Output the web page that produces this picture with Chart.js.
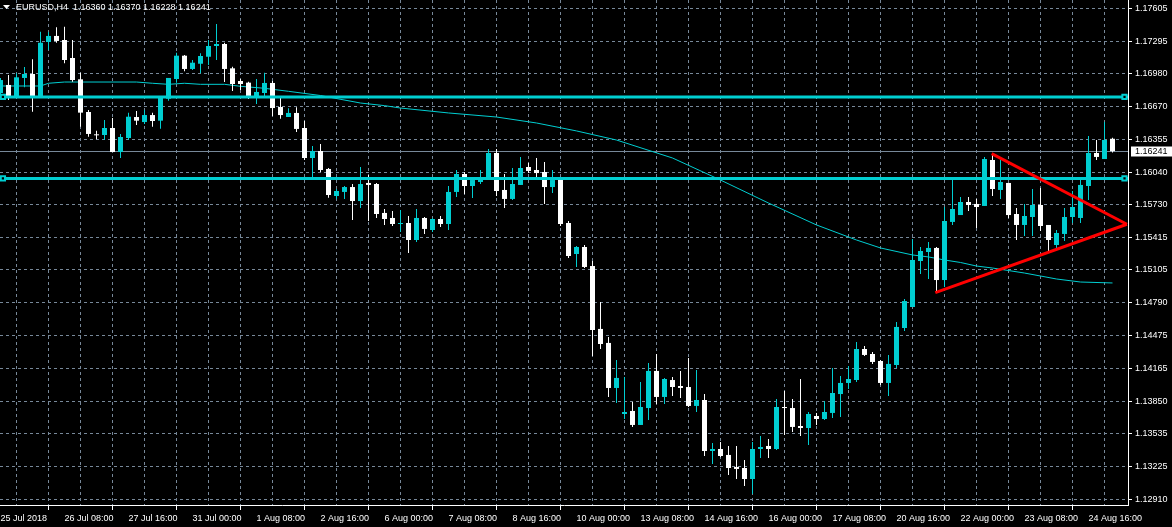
<!DOCTYPE html>
<html>
<head>
<meta charset="utf-8">
<title>EURUSD,H4</title>
<script src="https://cdn.jsdelivr.net/npm/chart.js@4.4.1/dist/chart.umd.min.js"></script>
<style>
  html, body { margin: 0; padding: 0; background: #000; }
  canvas { display: block; }
</style>
</head>
<body>
<canvas id="chart" width="1172" height="527"></canvas>
<script>
// H4 candles, oldest first (25 Jul 2018 00:00 .. last bar)
const opens = [
  1.16798, 1.16875, 1.16763, 1.16942, 1.16980, 1.16763, 1.17286, 1.17344, 1.17305, 1.17133,
  1.16929, 1.16616, 1.16396, 1.16396, 1.16463, 1.16233, 1.16367, 1.16568, 1.16520, 1.16587,
  1.16533, 1.16743, 1.16932, 1.17155, 1.17028, 1.17078, 1.17145, 1.17248, 1.17267, 1.17034,
  1.16913, 1.16897, 1.16760, 1.16798, 1.16894, 1.16664, 1.16568, 1.16607, 1.16463, 1.16176,
  1.16243, 1.16071, 1.15812, 1.15851, 1.15898, 1.15764, 1.15937, 1.15927, 1.15650, 1.15602,
  1.15544, 1.15554, 1.15391, 1.15602, 1.15487, 1.15592, 1.15544, 1.15851, 1.16023, 1.15908,
  1.15946, 1.15975, 1.16224, 1.15870, 1.15784, 1.15918, 1.16090, 1.16061, 1.16042, 1.15898,
  1.15975, 1.15554, 1.15257, 1.15324, 1.15142, 1.14540, 1.14406, 1.13975, 1.13726, 1.13755,
  1.13621, 1.13783, 1.14138, 1.13889, 1.14051, 1.13994, 1.13984, 1.13803, 1.13860, 1.13372,
  1.13391, 1.13334, 1.13219, 1.13209, 1.13104, 1.13391, 1.13420, 1.13391, 1.13793, 1.13783,
  1.13611, 1.13592, 1.13707, 1.13678, 1.13736, 1.13917, 1.14023, 1.14051, 1.14348, 1.14300,
  1.14233, 1.14023, 1.14195, 1.14549, 1.14750, 1.15190, 1.15276, 1.15315, 1.15008, 1.15564,
  1.15630, 1.15755, 1.15736, 1.15717, 1.16157, 1.15870, 1.15937, 1.15640, 1.15535, 1.15611,
  1.15726, 1.15535, 1.15343, 1.15449, 1.15611, 1.15602, 1.15908, 1.16224, 1.16166, 1.16360
];
const highs = [
  1.16942, 1.16970, 1.16987, 1.17047, 1.17121, 1.17385, 1.17382, 1.17427, 1.17433, 1.17305,
  1.16992, 1.16635, 1.16437, 1.16540, 1.16559, 1.16406, 1.16610, 1.16626, 1.16635, 1.16610,
  1.16763, 1.16942, 1.17184, 1.17162, 1.17114, 1.17178, 1.17305, 1.17458, 1.17279, 1.17050,
  1.16932, 1.16906, 1.16932, 1.16992, 1.16913, 1.16769, 1.16652, 1.16661, 1.16530, 1.16291,
  1.16310, 1.16080, 1.15879, 1.15908, 1.15927, 1.16090, 1.16013, 1.15937, 1.15688, 1.15669,
  1.15678, 1.15621, 1.15688, 1.15611, 1.15602, 1.15621, 1.15908, 1.16061, 1.16042, 1.15975,
  1.16061, 1.16262, 1.16262, 1.16023, 1.16080, 1.16186, 1.16128, 1.16176, 1.16138, 1.16061,
  1.15975, 1.15573, 1.15334, 1.15343, 1.15190, 1.14798, 1.14463, 1.14243, 1.14080, 1.13841,
  1.14032, 1.14214, 1.14300, 1.14071, 1.14080, 1.14138, 1.14262, 1.14147, 1.13917, 1.13449,
  1.13458, 1.13420, 1.13420, 1.13286, 1.13458, 1.13516, 1.13487, 1.13870, 1.13946, 1.13870,
  1.14061, 1.13745, 1.13736, 1.13850, 1.14166, 1.14090, 1.14185, 1.14415, 1.14377, 1.14319,
  1.14243, 1.14291, 1.14606, 1.14827, 1.15401, 1.15324, 1.15372, 1.15324, 1.15707, 1.15994,
  1.15803, 1.15803, 1.15784, 1.16186, 1.16214, 1.16157, 1.15937, 1.15697, 1.15736, 1.15879,
  1.15889, 1.15535, 1.15487, 1.15697, 1.15860, 1.15975, 1.16387, 1.16348, 1.16520, 1.16370
];
const lows = [
  1.16779, 1.16731, 1.16760, 1.16853, 1.16619, 1.16760, 1.17210, 1.17279, 1.17082, 1.16906,
  1.16476, 1.16380, 1.16355, 1.16348, 1.16233, 1.16176, 1.16348, 1.16492, 1.16501, 1.16476,
  1.16456, 1.16724, 1.16897, 1.17006, 1.17018, 1.16987, 1.17066, 1.17114, 1.16903, 1.16817,
  1.16827, 1.16741, 1.16693, 1.16760, 1.16578, 1.16552, 1.16568, 1.16425, 1.16157, 1.15985,
  1.16042, 1.15796, 1.15784, 1.15784, 1.15583, 1.15697, 1.15573, 1.15602, 1.15535, 1.15525,
  1.15468, 1.15267, 1.15372, 1.15449, 1.15468, 1.15516, 1.15487, 1.15803, 1.15831, 1.15793,
  1.15927, 1.15965, 1.15812, 1.15697, 1.15774, 1.15918, 1.16032, 1.15985, 1.15736, 1.15841,
  1.15525, 1.15219, 1.15133, 1.15123, 1.14281, 1.14348, 1.13889, 1.13831, 1.13678, 1.13602,
  1.13621, 1.13669, 1.13822, 1.13822, 1.13898, 1.13879, 1.13793, 1.13745, 1.13324, 1.13248,
  1.13315, 1.13142, 1.13104, 1.13037, 1.12960, 1.13305, 1.13305, 1.13382, 1.13525, 1.13554,
  1.13516, 1.13429, 1.13621, 1.13669, 1.13688, 1.13697, 1.13965, 1.14032, 1.14281, 1.14205,
  1.14004, 1.13898, 1.14166, 1.14520, 1.14750, 1.15066, 1.15018, 1.14894, 1.14941, 1.15535,
  1.15630, 1.15669, 1.15506, 1.15717, 1.15812, 1.15784, 1.15602, 1.15391, 1.15430, 1.15430,
  1.15477, 1.15286, 1.15315, 1.15382, 1.15554, 1.15554, 1.15774, 1.16157, 1.16166, 1.16228
];
const closes = [
  1.16922, 1.16763, 1.16948, 1.16980, 1.16763, 1.17279, 1.17344, 1.17296, 1.17114, 1.16922,
  1.16610, 1.16406, 1.16393, 1.16463, 1.16233, 1.16377, 1.16571, 1.16533, 1.16587, 1.16530,
  1.16760, 1.16942, 1.17155, 1.17028, 1.17088, 1.17152, 1.17248, 1.17267, 1.17028, 1.16884,
  1.16884, 1.16760, 1.16808, 1.16894, 1.16654, 1.16587, 1.16607, 1.16454, 1.16176, 1.16243,
  1.16061, 1.15822, 1.15860, 1.15898, 1.15764, 1.15927, 1.15918, 1.15640, 1.15592, 1.15544,
  1.15554, 1.15391, 1.15602, 1.15497, 1.15592, 1.15544, 1.15851, 1.16023, 1.15908, 1.15965,
  1.15994, 1.16224, 1.15860, 1.15784, 1.15927, 1.16080, 1.16052, 1.16032, 1.15898, 1.15965,
  1.15544, 1.15238, 1.15324, 1.15133, 1.14530, 1.14396, 1.13975, 1.14071, 1.13745, 1.13621,
  1.13793, 1.14138, 1.13889, 1.14061, 1.13984, 1.13975, 1.13803, 1.13860, 1.13372, 1.13391,
  1.13324, 1.13209, 1.13200, 1.13104, 1.13391, 1.13410, 1.13391, 1.13793, 1.13783, 1.13602,
  1.13592, 1.13726, 1.13678, 1.13745, 1.13927, 1.14023, 1.14061, 1.14348, 1.14291, 1.14224,
  1.14023, 1.14205, 1.14559, 1.14807, 1.15200, 1.15286, 1.15315, 1.15008, 1.15573, 1.15688,
  1.15755, 1.15726, 1.15707, 1.16166, 1.15879, 1.15946, 1.15630, 1.15535, 1.15621, 1.15726,
  1.15525, 1.15391, 1.15458, 1.15611, 1.15707, 1.15918, 1.16224, 1.16186, 1.16348, 1.16241
];

// one time label every 8 bars
const timeLabels = [
  '25 Jul 2018', '26 Jul 08:00', '27 Jul 16:00', '31 Jul 00:00', '1 Aug 08:00', '2 Aug 16:00',
  '6 Aug 00:00', '7 Aug 08:00', '8 Aug 16:00', '10 Aug 00:00', '13 Aug 08:00', '14 Aug 16:00',
  '16 Aug 00:00', '17 Aug 08:00', '20 Aug 16:00', '22 Aug 00:00', '23 Aug 08:00', '24 Aug 16:00'
];
const priceTicks = [
  1.17605, 1.17295, 1.16980, 1.16670, 1.16355, 1.16040, 1.15730, 1.15415,
  1.15105, 1.14790, 1.14475, 1.14165, 1.13850, 1.13535, 1.13225, 1.12910
];

const maBars = [0, 5, 6, 8, 17, 19, 21, 23, 25, 28, 30, 33, 36, 40, 42, 45, 48, 50, 56, 62,
  67, 72, 77, 84, 90, 96, 102, 107, 110, 114, 116, 118, 120, 122, 124, 128, 132, 135, 139];
const maValues = [1.16865, 1.16865, 1.16891, 1.16903, 1.16903, 1.16891, 1.16881, 1.16891, 1.16881, 1.16881,
  1.16862, 1.16843, 1.16814, 1.16774, 1.16745, 1.16702, 1.16677, 1.16654, 1.16607, 1.16568,
  1.16511, 1.16435, 1.16348, 1.16176, 1.15965, 1.15745, 1.15535, 1.15391, 1.15315, 1.15248,
  1.15229, 1.15200, 1.15176, 1.15142, 1.15123, 1.15075, 1.15018, 1.14989, 1.14980];

// horizontal levels and the triangle (bar, price)
const levels = [1.16760, 1.15980];
const triUpper = [[123.9, 1.16217], [140.8, 1.15542]];
const triLower = [[116.85, 1.14887], [140.8, 1.15542]];
const symbol = 'EURUSD,H4';

const CYAN = '#00ced1';
const GRID = '#778899';
const FONT = { family: 'Liberation Sans', size: 9 };
const X_MIN = -0.0625, X_MAX = 140.9375;

const bars = opens.map((_, i) => i);
const last = opens.length - 1;
const candleColor = c => closes[c.dataIndex] > opens[c.dataIndex] ? CYAN : '#ffffff';

const levelSets = levels.map(v => ({
  type: 'line',
  data: [{ x: X_MIN, y: v }, { x: 0.3, y: v }, { x: 140.5, y: v }, { x: X_MAX, y: v }],
  borderColor: CYAN,
  borderWidth: 3,
  pointStyle: 'rect',
  pointRadius: c => (c.dataIndex === 1 || c.dataIndex === 2) ? 3 : 0,
  pointBackgroundColor: '#000',
  pointBorderColor: CYAN,
  pointBorderWidth: 2,
  order: 1
}));

const overlay = {
  id: 'overlay',
  beforeDatasetsDraw(chart) {
    const { ctx, chartArea, scales } = chart;
    const y = Math.round(scales.y.getPixelForValue(closes[last])) + 0.5;
    ctx.save();
    ctx.strokeStyle = GRID;
    ctx.lineWidth = 1;
    ctx.beginPath();
    ctx.moveTo(chartArea.left, y);
    ctx.lineTo(chartArea.right, y);
    ctx.stroke();
    ctx.restore();
  },
  afterDraw(chart) {
    const { ctx, chartArea, scales } = chart;
    ctx.save();
    // symbol header
    ctx.fillStyle = '#fff';
    ctx.beginPath();
    ctx.moveTo(3, 5); ctx.lineTo(10, 5); ctx.lineTo(6.5, 9); ctx.closePath();
    ctx.fill();
    ctx.font = '9px "Liberation Sans"';
    ctx.textBaseline = 'middle';
    const head = symbol + '  ' + [opens[last], highs[last], lows[last], closes[last]].map(v => v.toFixed(5)).join(' ');
    ctx.fillText(head, 16, 7.5);
    // last price box
    const y = scales.y.getPixelForValue(closes[last]);
    ctx.fillStyle = '#fff';
    ctx.fillRect(chartArea.right + 3, Math.round(y) - 4.5, 41, 10);
    ctx.fillStyle = '#000';
    ctx.fillText(closes[last].toFixed(5), chartArea.right + 7, Math.round(y) + 0.5);
    ctx.restore();
  }
};

new Chart(document.getElementById('chart'), {
  type: 'bar',
  data: {
    datasets: [
      {
        type: 'line',
        data: triUpper.map(p => ({ x: p[0], y: p[1] })),
        borderColor: '#ff0000', borderWidth: 3, pointRadius: 0, order: 0
      },
      {
        type: 'line',
        data: triLower.map(p => ({ x: p[0], y: p[1] })),
        borderColor: '#ff0000', borderWidth: 3, pointRadius: 0, order: 0
      },
      ...levelSets,
      {
        data: bars.map(i => ({ x: i, y: [opens[i], closes[i]] })),
        backgroundColor: candleColor,
        grouped: false, maxBarThickness: 5, minBarLength: 1, inflateAmount: 0, borderWidth: 0,
        order: 2
      },
      {
        data: bars.map(i => ({ x: i, y: [lows[i], highs[i]] })),
        backgroundColor: candleColor,
        grouped: false, maxBarThickness: 1, inflateAmount: 0, borderWidth: 0,
        order: 3
      },
      {
        type: 'line',
        data: maBars.map((b, k) => ({ x: b, y: maValues[k] })),
        borderColor: CYAN, borderWidth: 1, pointRadius: 0, tension: 0,
        order: 4
      }
    ]
  },
  options: {
    responsive: false,
    animation: false,
    devicePixelRatio: 1,
    layout: { padding: 0 },
    plugins: { legend: { display: false }, tooltip: { enabled: false } },
    scales: {
      x: {
        type: 'linear', min: X_MIN, max: X_MAX, offset: false,
        afterBuildTicks: s => {
          const t = [];
          for (let v = 0; v <= 140; v += 4) t.push({ value: v });
          s.ticks = t;
        },
        afterFit: s => { s.height = 22; s.paddingLeft = 0; s.paddingRight = 0; },
        grid: {
          color: GRID, lineWidth: 1, tickLength: 5,
          tickColor: c => (c.tick && c.tick.value % 8 === 0) ? '#fff' : 'rgba(0,0,0,0)'
        },
        border: { display: true, color: '#fff', width: 1, dash: [3, 3] },
        ticks: {
          autoSkip: false, maxRotation: 0, minRotation: 0, align: 'start',
          color: '#fff', font: FONT, padding: 3,
          callback: v => v % 8 === 0 ? timeLabels[v / 8] : ''
        }
      },
      y: {
        position: 'right', min: 1.12855, max: 1.17688,
        afterBuildTicks: s => { s.ticks = priceTicks.map(v => ({ value: v })); },
        afterFit: s => { s.width = 44; s.paddingTop = 0; s.paddingBottom = 0; },
        grid: { color: GRID, lineWidth: 1, tickLength: 4, tickColor: '#fff' },
        border: { display: true, color: '#fff', width: 1, dash: [3, 3] },
        ticks: {
          autoSkip: false, color: '#fff', font: FONT, padding: 3,
          callback: v => v.toFixed(5)
        }
      }
    }
  },
  plugins: [overlay]
});
</script>
</body>
</html>
